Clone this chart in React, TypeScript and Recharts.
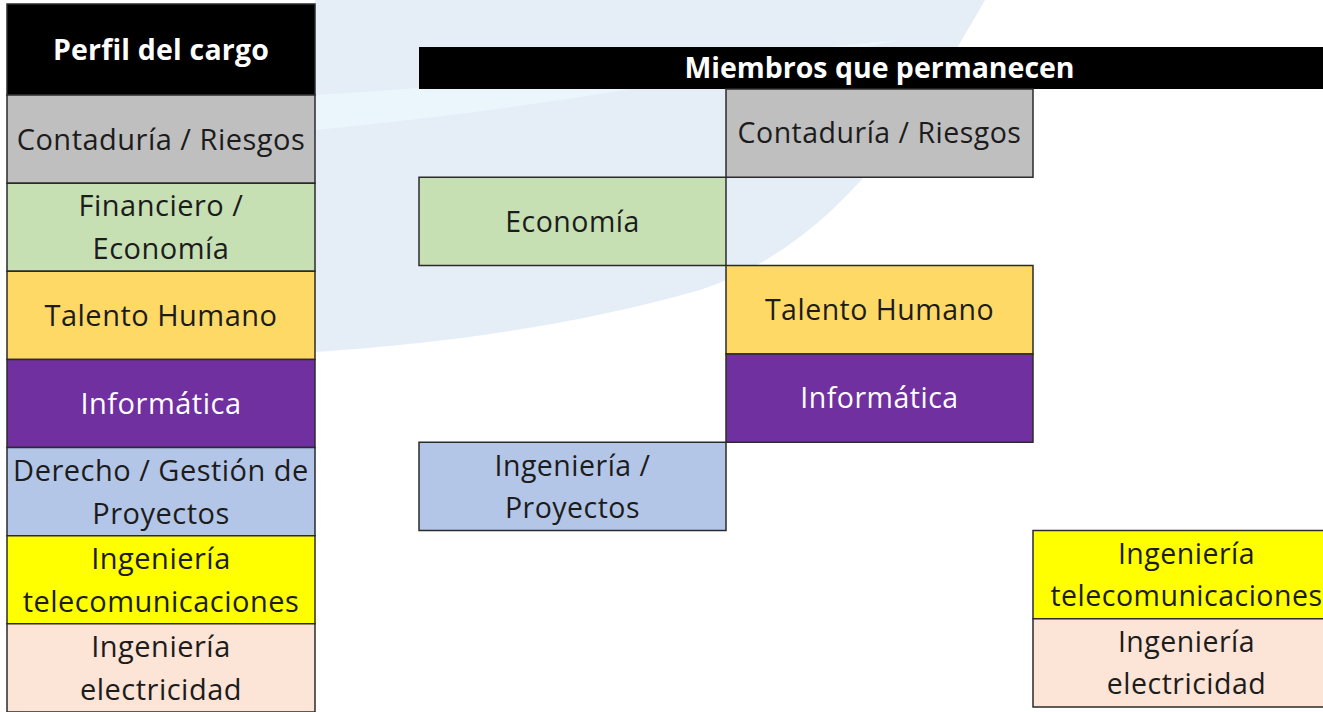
import React from 'react';
import { ComposedChart, XAxis, YAxis, ReferenceArea } from 'recharts';

// Column on the left: every profile, one per row
const tituloPerfil = 'Perfil del cargo';
const perfiles = [
  ['Contaduría / Riesgos'],
  ['Financiero /', 'Economía'],
  ['Talento Humano'],
  ['Informática'],
  ['Derecho / Gestión de', 'Proyectos'],
  ['Ingeniería', 'telecomunicaciones'],
  ['Ingeniería', 'electricidad'],
];
const perfilFila = [0, 1, 2, 3, 4, 5, 6];

// Grid on the right: members who stay, placed by column and row
const tituloMiembros = 'Miembros que permanecen';
const miembros = [
  ['Contaduría / Riesgos'],
  ['Economía'],
  ['Talento Humano'],
  ['Informática'],
  ['Ingeniería /', 'Proyectos'],
  ['Ingeniería', 'telecomunicaciones'],
  ['Ingeniería', 'electricidad'],
];
const miembroColumna = [1, 0, 1, 1, 0, 2, 2];
const miembroFila = [0, 1, 2, 3, 4, 5, 6];
const miembroPerfil = [0, 1, 2, 3, 4, 5, 6];

const FILAS = 7;
const COLUMNAS = 3;

// palette per profile
const colores = ['#bfbfbf', '#c6e0b4', '#ffd966', '#7030a0', '#b4c6e7', '#ffff00', '#fce4d6'];
const colorTexto = ['#1c1c1c', '#1c1c1c', '#1c1c1c', '#ffffff', '#1c1c1c', '#1c1c1c', '#1c1c1c'];

const FONT = '"Open Sans", "Noto Sans", sans-serif';
const BORDE = '#2b2b2b';
const M = 2;

// layout (pixels)
const LEFT_HEADER = 91;
const LEFT_ROW = 88.14;
const RIGHT_HEADER = 42;
const RIGHT_ROW = 88.3;
const RIGHT_COL = 307;

const CellLabel = (props: any) => {
  const { viewBox, lines, color, size, weight, gap, spacing = 0 } = props;
  if (!viewBox) return null;
  const cx = viewBox.x + viewBox.width / 2;
  const cy = viewBox.y + viewBox.height / 2;
  const start = cy - ((lines.length - 1) * gap) / 2 + size * 0.36;
  return (
    <text
      textAnchor="middle"
      fill={color}
      fontSize={size}
      fontWeight={weight}
      fontFamily={FONT}
      letterSpacing={spacing}
    >
      {lines.map((l: string, i: number) => (
        <tspan key={i} x={cx} y={start + i * gap}>
          {l}
        </tspan>
      ))}
    </text>
  );
};

const PerfilChart = () => {
  const headerSpan = LEFT_HEADER / LEFT_ROW;
  const h = LEFT_HEADER + FILAS * LEFT_ROW;
  return (
    <ComposedChart width={308 + 2 * M} height={h + 2 * M} margin={{ top: M, right: M, bottom: M, left: M }}>
      <XAxis type="number" dataKey="x" domain={[0, 1]} hide allowDataOverflow />
      <YAxis type="number" dataKey="y" domain={[-headerSpan, FILAS]} reversed hide allowDataOverflow />
      <ReferenceArea
        x1={0}
        x2={1}
        y1={-headerSpan}
        y2={0}
        fill="#000000"
        fillOpacity={1}
        stroke={BORDE}
        strokeWidth={1.5}
        label={<CellLabel lines={[tituloPerfil]} color="#ffffff" size={28.5} weight={700} gap={43} spacing={0.2} />}
      />
      {perfiles.map((lines, i) => (
        <ReferenceArea
          key={i}
          x1={0}
          x2={1}
          y1={perfilFila[i]}
          y2={perfilFila[i] + 1}
          fill={colores[i]}
          fillOpacity={1}
          stroke={BORDE}
          strokeWidth={1.5}
          label={<CellLabel lines={lines} color={colorTexto[i]} size={29} weight={400} gap={43} spacing={0.5} />}
        />
      ))}
    </ComposedChart>
  );
};

const MiembrosChart = () => {
  const headerSpan = RIGHT_HEADER / RIGHT_ROW;
  const h = RIGHT_HEADER + FILAS * RIGHT_ROW;
  return (
    <ComposedChart
      width={COLUMNAS * RIGHT_COL + 2 * M}
      height={h + 2 * M}
      margin={{ top: M, right: M, bottom: M, left: M }}
    >
      <XAxis type="number" dataKey="x" domain={[0, COLUMNAS]} hide allowDataOverflow />
      <YAxis type="number" dataKey="y" domain={[-headerSpan, FILAS]} reversed hide allowDataOverflow />
      <ReferenceArea
        x1={0}
        x2={COLUMNAS}
        y1={-headerSpan}
        y2={0}
        fill="#000000"
        fillOpacity={1}
        stroke="none"
        label={<CellLabel lines={[tituloMiembros]} color="#ffffff" size={28.5} weight={700} gap={43} />}
      />
      {miembros.map((lines, i) => (
        <ReferenceArea
          key={i}
          x1={miembroColumna[i]}
          x2={miembroColumna[i] + 1}
          y1={miembroFila[i]}
          y2={miembroFila[i] + 1}
          fill={colores[miembroPerfil[i]]}
          fillOpacity={1}
          stroke={BORDE}
          strokeWidth={1.5}
          label={
            <CellLabel
              lines={lines}
              color={colorTexto[miembroPerfil[i]]}
              size={28.5}
              weight={400}
              gap={42}
              spacing={0.5}
            />
          }
        />
      ))}
    </ComposedChart>
  );
};

const Fondo = () => (
  <svg width={1323} height={712} style={{ position: 'absolute', left: 0, top: 0 }}>
    <path d="M 315 0 L 985 0 C 900 150 820 250 700 290 C 560 330 420 345 315 352 Z" fill="#e5eef7" />
    <path d="M 315 95 C 500 85 680 60 900 40 C 700 80 520 110 315 130 Z" fill="#eaf5fc" />
  </svg>
);

export default function App() {
  return (
    <div
      style={{
        position: 'absolute',
        left: 0,
        top: 0,
        width: 1323,
        height: 712,
        overflow: 'hidden',
        background: '#ffffff',
      }}
    >
      <Fondo />
      <div style={{ position: 'absolute', left: 7 - M, top: 4 - M }}>
        <PerfilChart />
      </div>
      <div style={{ position: 'absolute', left: 419 - M, top: 47 - M }}>
        <MiembrosChart />
      </div>
    </div>
  );
}
